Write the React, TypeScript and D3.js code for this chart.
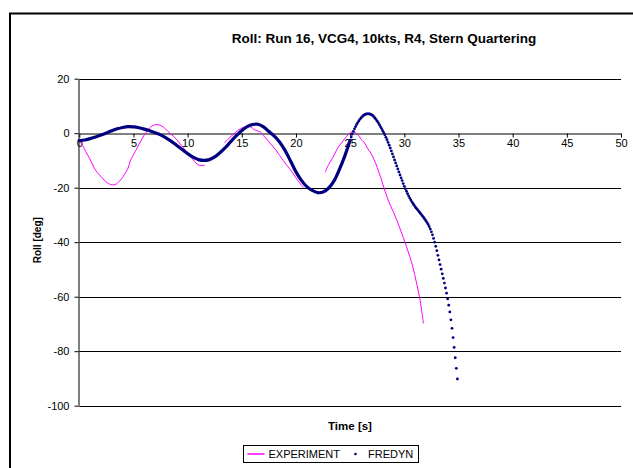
import { useEffect, useRef } from 'react';
import * as d3 from 'd3';

const TITLE = 'Roll: Run 16, VCG4, 10kts, R4, Stern Quartering';
const X_LABEL = 'Time [s]';
const Y_LABEL = 'Roll [deg]';
const X_TICKS = [0, 5, 10, 15, 20, 25, 30, 35, 40, 45, 50];
const Y_TICKS = [20, 0, -20, -40, -60, -80, -100];

// FREDYN 0 - 25 s, one value every 0.5 s (markers merge into a thick line here)
const FREDYN_EARLY_STEP = 0.5;
const FREDYN_EARLY = [
  -2.7, -2.5, -2.0, -1.4, -0.7, 0.1, 0.9, 1.6, 2.1, 2.4,
  2.3, 2.0, 1.5, 0.9, 0.2, -0.6, -1.7, -3.0, -4.5, -6.0,
  -7.5, -8.8, -9.7, -10.0, -9.7, -8.7, -7.1, -5.2, -3.0, -0.9,
  1.0, 2.4, 3.2, 3.3, 2.3, 0.6, -1.1, -3.3, -6.4, -10.2,
  -14.2, -17.3, -19.6, -21.0, -21.8, -21.6, -20.2, -17.6, -13.4, -8.4,
  -2.6,
];

// FREDYN 25.1 - 34.9 s, one marker every 0.1 s
const FREDYN_LATE_START = 25.1;
const FREDYN_LATE_STEP = 0.1;
const FREDYN_LATE = [
  -1.4, -0.3, 0.7, 1.6, 2.4, 3.2, 3.9, 4.5, 5.1,
  5.6, 6.0, 6.4, 6.7, 6.9, 7.05, 7.1, 7.1, 7.05, 6.9,
  6.7, 6.4, 6.0, 5.5, 5.0, 4.4, 3.8, 3.1, 2.4, 1.7,
  0.9, 0.2, -0.6, -1.5, -2.4, -3.4, -4.4, -5.4, -6.5, -7.6,
  -8.7, -9.8, -10.9, -12.0, -13.1, -14.2, -15.3, -16.4, -17.4, -18.5,
  -19.5, -20.4, -21.3, -22.2, -23.0, -23.8, -24.5, -25.2, -25.8, -26.4,
  -27.0, -27.5, -28.0, -28.5, -29.0, -29.5, -30.0, -30.5, -31.0, -31.6,
  -32.2, -32.8, -33.5, -34.3, -35.2, -36.2, -37.3, -38.6, -40.0, -41.5,
  -43.1, -44.8, -46.5, -48.2, -49.9, -51.6, -53.3, -55.0, -56.8, -58.7,
  -60.8, -63.1, -65.6, -68.5, -71.6, -75.0, -78.6, -82.4, -86.3, -90.2,
];

// measured roll, [time, roll]; null marks a gap in the record
const EXPERIMENT: [number, number | null][] = [
  [0, -2.8], [0.3, -4.5], [0.6, -6.8], [0.9, -8.9], [1.2, -11.2], [1.5, -13.6],
  [1.8, -15.0], [2.1, -16.4], [2.4, -17.6], [2.7, -18.5], [3.0, -18.9], [3.3, -18.9],
  [3.6, -18.0], [3.9, -16.7], [4.2, -15.0], [4.5, -12.8], [4.7, -10.2], [4.9, -8.6],
  [5.2, -6.4], [5.5, -4.2], [5.8, -2.0], [6.1, 0.0], [6.4, 1.5], [6.7, 2.6],
  [7.0, 3.1], [7.3, 3.1], [7.6, 2.7], [7.9, 1.8], [8.2, 0.6], [8.5, -0.5],
  [8.8, -1.5], [9.1, -2.9], [9.4, -4.4], [9.7, -5.8], [10.0, -7.4], [10.3, -8.8],
  [10.6, -10.2], [10.9, -11.4], [11.2, -11.9], [11.6, -11.7],
  [12.5, null],
  [13.4, -3.6], [13.7, -2.3], [14.0, -1.2], [14.3, -0.1], [14.6, 0.9], [14.9, 1.7],
  [15.2, 2.2], [15.5, 2.5], [15.8, 2.4], [16.1, 1.4], [16.4, 0.9], [16.7, 0.5],
  [17.0, -0.9], [17.3, -2.2], [17.6, -3.6], [17.9, -5.0], [18.2, -6.5], [18.5, -8.2],
  [18.8, -9.9], [19.1, -11.5], [19.4, -13.0], [19.7, -14.6], [20.0, -16.4], [20.3, -18.0],
  [20.5, -19.0], [20.7, -20.0],
  [21.5, null],
  [22.7, -14.3], [23.0, -11.6], [23.3, -9.6], [23.6, -7.4], [23.9, -5.1], [24.2, -3.6],
  [24.5, -2.0], [24.8, -0.6], [25.1, 0.4], [25.4, 0.3], [25.7, -0.5], [26.0, -2.2],
  [26.3, -3.4], [26.6, -5.5], [26.9, -7.3], [27.2, -9.6], [27.5, -12.6], [27.8, -16.0],
  [28.1, -19.8], [28.4, -23.3], [28.7, -26.4], [29.0, -29.0], [29.3, -31.8], [29.6, -35.0],
  [29.9, -38.2], [30.2, -41.6], [30.5, -45.2], [30.8, -49.3], [31.1, -54.5], [31.4, -60.1],
  [31.6, -65.0], [31.76, -69.8],
];

const FONT = '"Liberation Sans", Arial, sans-serif';
const PINK = '#ff00ff';
const NAVY = '#000080';

function RollChart() {
  const svgRef = useRef<SVGSVGElement>(null);

  useEffect(() => {
    const width = 633;
    const height = 468;
    const plot = { left: 79.3, right: 621, top: 78.7, bottom: 405.7 };

    const root = d3.select(svgRef.current);
    root.selectAll('*').remove();
    root.attr('width', width).attr('height', height);

    const svg = root.append('g').style('font-family', FONT);

    // outer chart frame (runs off the picture on right and bottom)
    svg.append('rect')
      .attr('x', 10)
      .attr('y', 13.5)
      .attr('width', 700)
      .attr('height', 500)
      .attr('fill', '#fff')
      .attr('stroke', '#000')
      .attr('stroke-width', 2);

    const x = d3.scaleLinear().domain([0, 50]).range([plot.left, plot.right]);
    const y = d3.scaleLinear().domain([-100, 20]).range([plot.bottom, plot.top]);

    // horizontal grid lines
    svg.append('g')
      .selectAll('line')
      .data(Y_TICKS.filter(d => d !== 0))
      .join('line')
      .attr('x1', plot.left)
      .attr('x2', plot.right)
      .attr('y1', d => Math.round(y(d)) + 0.5)
      .attr('y2', d => Math.round(y(d)) + 0.5)
      .attr('stroke', '#000')
      .attr('stroke-width', 1);

    // y axis (plain hyphen for negatives, like the original)
    const yAxis = svg.append('g')
      .attr('transform', `translate(${Math.round(plot.left) - 0.5},0)`)
      .call(d3.axisLeft(y).tickValues(Y_TICKS).tickFormat(d => String(d))
        .tickSize(4).tickSizeOuter(0).tickPadding(5));
    yAxis.select('.domain').attr('stroke', '#000');
    yAxis.selectAll('.tick line').attr('stroke', '#000');
    yAxis.selectAll('.tick text')
      .attr('fill', '#000')
      .style('font-family', FONT)
      .style('font-size', '11px');

    // x axis sits on roll = 0
    const xAxis = svg.append('g')
      .attr('transform', `translate(0,${Math.round(y(0)) + 0.5})`)
      .call(d3.axisBottom(x).tickValues(X_TICKS).tickFormat(d => String(d))
        .tickSize(4).tickSizeOuter(0).tickPadding(2));
    xAxis.select('.domain').attr('stroke', '#000');
    xAxis.selectAll('.tick line').attr('stroke', '#000');
    xAxis.selectAll('.tick text')
      .attr('fill', '#000')
      .style('font-family', FONT)
      .style('font-size', '11px');

    // experiment
    const expLine = d3.line<[number, number | null]>()
      .defined(d => d[1] !== null)
      .x(d => x(d[0]))
      .y(d => y(d[1] as number))
      .curve(d3.curveCatmullRom);

    svg.append('path')
      .datum(EXPERIMENT)
      .attr('fill', 'none')
      .attr('stroke', PINK)
      .attr('stroke-width', 1)
      .attr('d', expLine);

    // FREDYN, dense part
    const early = FREDYN_EARLY.map((v, i) => [i * FREDYN_EARLY_STEP, v] as [number, number]);
    const fredynLine = d3.line<[number, number]>()
      .x(d => x(d[0]))
      .y(d => y(d[1]))
      .curve(d3.curveCatmullRom);

    svg.append('path')
      .datum(early)
      .attr('fill', 'none')
      .attr('stroke', NAVY)
      .attr('stroke-width', 3.2)
      .attr('stroke-linecap', 'round')
      .attr('d', fredynLine);

    // FREDYN, markers
    const late = FREDYN_LATE.map((v, i) => [FREDYN_LATE_START + i * FREDYN_LATE_STEP, v] as [number, number]);
    svg.append('g')
      .selectAll('circle')
      .data(late)
      .join('circle')
      .attr('cx', d => x(d[0]))
      .attr('cy', d => y(d[1]))
      .attr('r', 1.4)
      .attr('fill', NAVY);

    // title
    svg.append('text')
      .attr('x', 384)
      .attr('y', 43)
      .attr('text-anchor', 'middle')
      .style('font-size', '13.5px')
      .style('font-weight', 'bold')
      .text(TITLE);

    // axis titles
    svg.append('text')
      .attr('x', 350)
      .attr('y', 430)
      .attr('text-anchor', 'middle')
      .style('font-size', '11.5px')
      .style('font-weight', 'bold')
      .text(X_LABEL);

    svg.append('text')
      .attr('transform', `translate(40.5,${(plot.top + plot.bottom) / 2 - 2}) rotate(-90)`)
      .attr('text-anchor', 'middle')
      .style('font-size', '10px')
      .style('font-weight', 'bold')
      .text(Y_LABEL);

    // legend
    const legend = svg.append('g').attr('transform', 'translate(243.5,445.5)');

    legend.append('rect')
      .attr('width', 175)
      .attr('height', 17)
      .attr('fill', '#fff')
      .attr('stroke', '#000')
      .attr('stroke-width', 1);

    legend.append('line')
      .attr('x1', 4)
      .attr('x2', 21)
      .attr('y1', 8.5)
      .attr('y2', 8.5)
      .attr('stroke', PINK)
      .attr('stroke-width', 1.5);

    legend.append('text')
      .attr('x', 25)
      .attr('y', 12.5)
      .style('font-size', '11px')
      .text('EXPERIMENT');

    legend.append('circle')
      .attr('cx', 112)
      .attr('cy', 8.5)
      .attr('r', 1.3)
      .attr('fill', NAVY);

    legend.append('text')
      .attr('x', 124.5)
      .attr('y', 12.5)
      .style('font-size', '11px')
      .text('FREDYN');
  }, []);

  return <svg ref={svgRef} style={{ position: 'absolute', left: 0, top: 0, background: '#fff' }}></svg>;
}

export default function App() {
  return <RollChart />;
}
